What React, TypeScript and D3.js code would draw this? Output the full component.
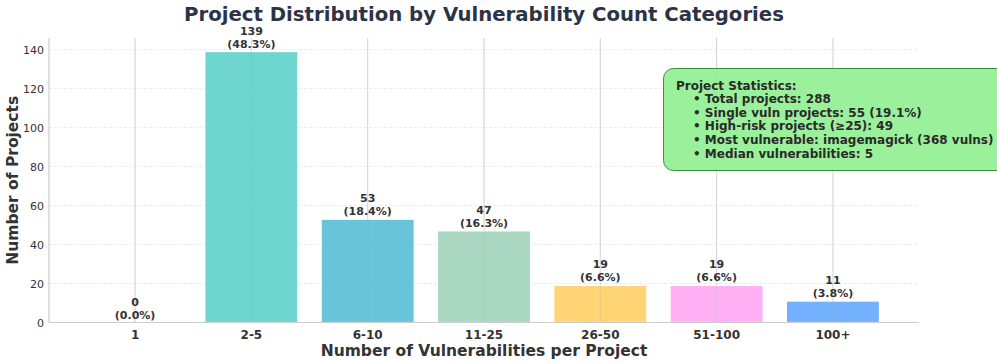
import React from "react";
import * as d3 from "d3";

const categories = ["1", "2-5", "6-10", "11-25", "26-50", "51-100", "100+"];
const counts = [0, 139, 53, 47, 19, 19, 11];
const percents = ["0.0%", "48.3%", "18.4%", "16.3%", "6.6%", "6.6%", "3.8%"];
const colors = ["#FF6B6B", "#4ECDC4", "#45B7D1", "#96CEB4", "#FECA57", "#FF9FF3", "#54A0FF"];
const yTicks = [0, 20, 40, 60, 80, 100, 120, 140];
const statsTitle = "Project Statistics:";
const statsLines = [
  "Total projects: 288",
  "Single vuln projects: 55 (19.1%)",
  "High-risk projects (≥25): 49",
  "Most vulnerable: imagemagick (368 vulns)",
  "Median vulnerabilities: 5",
];

const W = 997, H = 363;
const left = 49, right = 919, top = 38, bottom = 322.5;
const font = "DejaVu Sans, sans-serif";

export default function App() {
  const x = d3.scaleLinear().domain([-0.74, categories.length - 1 + 0.74]).range([left, right]);
  const y = d3.scaleLinear().domain([0, 139 * 1.05]).range([bottom, top]);
  const bw = x(0.4) - x(-0.4);
  return (
    <svg width={W} height={H} style={{ position: "absolute", left: 0, top: 0 }} fontFamily={font}>
      <rect width={W} height={H} fill="white" />
      {yTicks.map((t) => (
        <line key={"hg" + t} x1={left} x2={right} y1={y(t)} y2={y(t)} stroke="#e6e6e6" strokeWidth={0.8} strokeDasharray="3,2" />
      ))}
      {categories.map((c, i) => (
        <line key={"vg" + c} x1={x(i)} x2={x(i)} y1={top} y2={bottom} stroke="#dcdcdc" strokeWidth={1} />
      ))}
      {categories.map((c, i) => (
        <rect key={"b" + c} x={x(i) - bw / 2} y={y(counts[i])} width={bw} height={y(0) - y(counts[i])}
          fill={colors[i]} fillOpacity={0.82} stroke="white" strokeWidth={1.2} />
      ))}
      {categories.map((c, i) => (
        <line key={"vg2" + c} x1={x(i)} x2={x(i)} y1={top} y2={bottom} stroke="#bbbbbb" strokeOpacity={0.25} strokeWidth={1} />
      ))}
      <line x1={left} x2={left} y1={top} y2={bottom} stroke="#cccccc" strokeWidth={1.2} />
      <line x1={left} x2={right} y1={bottom} y2={bottom} stroke="#cccccc" strokeWidth={1.2} />
      {yTicks.map((t) => (
        <text key={"yt" + t} x={44} y={y(t) + 4} textAnchor="end" fontSize={11} fill="#333">{t}</text>
      ))}
      {categories.map((c, i) => (
        <text key={"xt" + c} x={x(i)} y={339} textAnchor="middle" fontSize={12} fontWeight="bold" fill="#333">{c}</text>
      ))}
      {categories.map((c, i) => (
        <text key={"vl" + c} x={x(i)} textAnchor="middle" fontSize={11} fontWeight="bold" fill="#333">
          <tspan x={x(i)} y={y(counts[i]) - 17}>{counts[i]}</tspan>
          <tspan x={x(i)} y={y(counts[i]) - 4}>({percents[i]})</tspan>
        </text>
      ))}
      <text x={484} y={21} textAnchor="middle" fontSize={19.7} fontWeight="bold" fill="#2c3345">
        Project Distribution by Vulnerability Count Categories
      </text>
      <text x={484} y={356} textAnchor="middle" fontSize={15.5} fontWeight="bold" fill="#333">
        Number of Vulnerabilities per Project
      </text>
      <text transform={`translate(18,${(top + bottom) / 2}) rotate(-90)`} textAnchor="middle" fontSize={15.5} fontWeight="bold" fill="#333">
        Number of Projects
      </text>
      <rect x={663.5} y={68.5} width={345} height={102} rx={10} ry={10} fill="#90EE90" fillOpacity={0.9} stroke="#3d8b3d" strokeWidth={1} />
      <text fontSize={12} fontWeight="bold" fill="#2a2a2a">
        <tspan x={676} y={89.5}>{statsTitle}</tspan>
        {statsLines.map((l, i) => (
          <tspan key={l} x={693} y={89.5 + (i + 1) * 13.6}>• {l}</tspan>
        ))}
      </text>
    </svg>
  );
}
